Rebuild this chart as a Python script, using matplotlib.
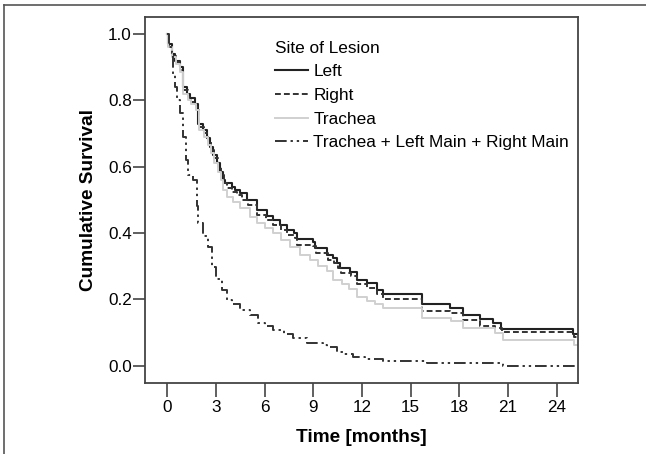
import matplotlib
matplotlib.use("Agg")
import matplotlib.pyplot as plt
from matplotlib.lines import Line2D

plt.rcParams['font.family'] = ['Liberation Sans', 'DejaVu Sans']

# Kaplan-Meier steps (months, cumulative survival)
left_t = [0, 0.06, 0.27, 0.5, 0.78, 0.99, 1.2, 1.4, 1.71, 1.91, 2.22, 2.45,
          2.63, 2.85, 3.05, 3.25, 3.45, 3.56, 3.97, 4.17, 4.48, 4.9, 5.55,
          6.13, 6.54, 6.95, 7.36, 7.81, 7.98, 9.0, 9.1, 9.83, 10.23, 10.44,
          10.65, 11.26, 11.68, 12.29, 12.9, 13.32, 15.68, 17.43, 18.25,
          19.28, 20.1, 20.6, 25.03, 25.3]
left_s = [1.0, 0.97, 0.94, 0.92, 0.90, 0.84, 0.82, 0.806, 0.79, 0.73, 0.71,
          0.685, 0.66, 0.635, 0.61, 0.585, 0.56, 0.55, 0.54, 0.53, 0.52, 0.50,
          0.469, 0.451, 0.439, 0.424, 0.409, 0.399, 0.381, 0.374, 0.354,
          0.334, 0.324, 0.309, 0.294, 0.283, 0.258, 0.248, 0.228, 0.216,
          0.185, 0.173, 0.153, 0.140, 0.128, 0.111, 0.096, 0.096]

right_t = [0, 0.06, 0.3, 0.55, 0.8, 1.0, 1.25, 1.45, 1.75, 1.95, 2.25, 2.5,
           2.7, 2.9, 3.1, 3.3, 3.5, 3.7, 4.0, 4.3, 4.6, 5.0, 5.55, 6.1, 6.5,
           7.0, 7.4, 7.85, 8.0, 9.0, 9.15, 9.9, 10.3, 10.5, 10.7, 11.3, 11.7,
           12.3, 12.9, 13.3, 15.7, 17.45, 18.25, 19.3, 20.2, 20.65, 25.05,
           25.3]
right_s = [1.0, 0.965, 0.935, 0.915, 0.89, 0.83, 0.81, 0.795, 0.78, 0.72,
           0.70, 0.675, 0.65, 0.625, 0.60, 0.575, 0.55, 0.535, 0.525, 0.515,
           0.50, 0.485, 0.455, 0.44, 0.425, 0.41, 0.395, 0.385, 0.365, 0.36,
           0.34, 0.32, 0.31, 0.295, 0.28, 0.27, 0.245, 0.235, 0.215, 0.200,
           0.166, 0.158, 0.138, 0.120, 0.113, 0.103, 0.087, 0.087]

trachea_t = [0, 0.06, 0.3, 0.55, 0.8, 1.0, 1.25, 1.45, 1.75, 1.95, 2.25, 2.5,
             2.7, 2.9, 3.1, 3.3, 3.45, 3.7, 4.07, 4.5, 5.1, 5.51, 6.0, 6.54,
             7.0, 7.56, 8.18, 8.8, 9.3, 9.83, 10.23, 10.8, 11.2, 11.68, 12.3,
             12.8, 13.3, 15.7, 17.47, 18.25, 20.2, 20.7, 25.05, 25.3]
trachea_s = [1.0, 0.96, 0.93, 0.91, 0.885, 0.82, 0.80, 0.79, 0.77, 0.71,
             0.69, 0.665, 0.64, 0.61, 0.585, 0.56, 0.53, 0.51, 0.494, 0.475,
             0.449, 0.43, 0.415, 0.399, 0.38, 0.359, 0.335, 0.32, 0.30, 0.285,
             0.258, 0.245, 0.23, 0.208, 0.195, 0.185, 0.173, 0.143, 0.135,
             0.113, 0.098, 0.077, 0.062, 0.062]

tlr_t = [0, 0.1, 0.27, 0.37, 0.45, 0.6, 0.78, 0.99, 1.15, 1.3, 1.6, 1.81,
         1.91, 2.2, 2.53, 2.74, 3.0, 3.35, 3.66, 4.0, 4.48, 5.1, 5.61, 6.0,
         6.54, 7.2, 7.77, 8.6, 9.62, 9.83, 10.44, 10.9, 11.47, 12.2, 13.3,
         16.0, 20.7, 25.3]
tlr_s = [1.0, 0.962, 0.942, 0.88, 0.84, 0.80, 0.761, 0.69, 0.62, 0.575,
         0.56, 0.48, 0.429, 0.39, 0.359, 0.298, 0.26, 0.228, 0.198, 0.185,
         0.168, 0.153, 0.128, 0.12, 0.108, 0.095, 0.083, 0.068, 0.062, 0.057,
         0.042, 0.035, 0.027, 0.02, 0.015, 0.007, 0.0, 0.0]

x_ticks = [0, 3, 6, 9, 12, 15, 18, 21, 24]
y_ticks = [0.0, 0.2, 0.4, 0.6, 0.8, 1.0]

fig = plt.figure(figsize=(6.46, 4.54), dpi=100)
ax = fig.add_axes([0.2245, 0.1557, 0.6698, 0.8075])

ax.plot(left_t, left_s, drawstyle='steps-post', color='#222222', lw=1.5,
        label='Left')
ax.plot(right_t, right_s, drawstyle='steps-post', color='#333333', lw=1.4,
        dashes=(3, 1.6), label='Right')
ax.plot(trachea_t, trachea_s, drawstyle='steps-post', color='#d0d0d0',
        lw=1.4, label='Trachea')
ax.plot(tlr_t, tlr_s, drawstyle='steps-post', color='#333333', lw=1.4,
        dashes=(6, 2, 1.2, 2, 1.2, 2),
        label='Trachea + Left Main + Right Main')

ax.set_xlim(-1.37, 25.3)
ax.set_ylim(-0.053, 1.052)
ax.set_xticks(x_ticks)
ax.set_yticks(y_ticks)
ax.set_yticklabels([f'{v:.1f}' for v in y_ticks])
ax.tick_params(axis='x', direction='out', length=10, width=1.2,
               color='#444444', labelsize=12.3, pad=2)
ax.tick_params(axis='y', direction='out', length=8.5, width=1.2,
               color='#444444', labelsize=12.3, pad=1)
for sp in ax.spines.values():
    sp.set_color('#444444')
    sp.set_linewidth(1.3)

ax.set_xlabel('Time [months]', fontsize=13.7, fontweight='bold', labelpad=10)
ax.set_ylabel('Cumulative Survival', fontsize=13.7, fontweight='bold',
              labelpad=8)

leg = ax.legend(title='Site of Lesion', loc='upper left',
                bbox_to_anchor=(0.301, 0.935), frameon=False, fontsize=12.4,
                title_fontsize=12.4, handlelength=1.9, handletextpad=0.3,
                labelspacing=0.5, borderpad=0, borderaxespad=0,
                alignment='left')

# outer frame of the figure panel (only top and left edges are visible)
fig.add_artist(Line2D([4 / 646, 1.0], [1 - 5 / 454, 1 - 5 / 454],
                      color='#555555', lw=1.2, transform=fig.transFigure))
fig.add_artist(Line2D([4 / 646, 4 / 646], [0.0, 1 - 5 / 454],
                      color='#555555', lw=1.2, transform=fig.transFigure))

fig.savefig('out.png', dpi=100)
